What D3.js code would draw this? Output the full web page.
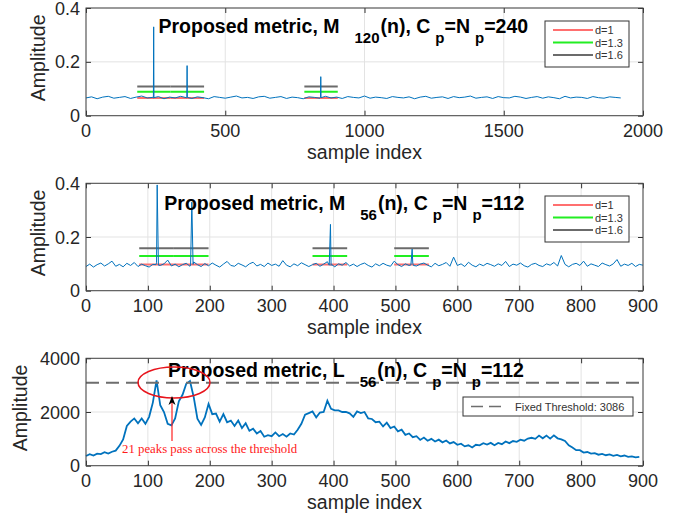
<!DOCTYPE html>
<html>
<head>
<meta charset="utf-8">
<script src="https://cdn.jsdelivr.net/npm/d3@7"></script>
<style>
body { margin: 0; background: #fff; }
</style>
</head>
<body>
<div id="chart"></div>
<script>
// ---- panel 1 : M_120(n), sampled every 20 samples + spike samples
var m120Step = 20;
var m120Noise = [0.066,0.070,0.063,0.069,0.072,0.065,0.068,0.071,0.064,0.069,
  0.073,0.066,0.068,0.071,0.063,0.069,0.066,0.072,0.067,0.064,
  0.070,0.067,0.063,0.071,0.068,0.065,0.069,0.073,0.066,0.068,
  0.064,0.070,0.072,0.065,0.068,0.071,0.064,0.069,0.067,0.063,
  0.070,0.068,0.065,0.072,0.066,0.069,0.064,0.071,0.068,0.066,
  0.073,0.065,0.069,0.067,0.064,0.071,0.068,0.066,0.070,0.063,
  0.069,0.072,0.065,0.068,0.070,0.064,0.071,0.067,0.069,0.073,
  0.065,0.068,0.070,0.064,0.071,0.067,0.066,0.072,0.069,0.064,
  0.068,0.071,0.065,0.070,0.067,0.063,0.072,0.066,0.069,0.068,
  0.064,0.071,0.067,0.065,0.070,0.068,0.066];
var m120SpikeIdx = [242, 243, 244, 362, 363, 364, 842, 843, 844];
var m120SpikeVal = [0.066, 0.330, 0.067, 0.067, 0.186, 0.068, 0.068, 0.145, 0.067];
var m120SegStart = [184, 304, 784];
var m120SegEnd = [304, 424, 904];

// ---- panel 2 : M_56(n), sampled every 6 samples + spike samples
var m56Step = 6;
var m56Noise = [0.090,0.099,0.088,0.097,0.103,0.092,0.100,0.110,0.091,0.098,
  0.089,0.102,0.094,0.105,0.090,0.099,0.093,0.088,0.098,0.104,
  0.094,0.100,0.114,0.092,0.099,0.089,0.097,0.102,0.091,0.107,
  0.097,0.090,0.101,0.093,0.103,0.095,0.088,0.099,0.109,0.094,
  0.091,0.102,0.096,0.089,0.100,0.106,0.092,0.098,0.090,0.103,
  0.094,0.099,0.091,0.112,0.095,0.089,0.100,0.093,0.104,0.097,
  0.090,0.097,0.102,0.091,0.099,0.108,0.094,0.089,0.100,0.095,
  0.105,0.092,0.099,0.090,0.098,0.103,0.094,0.088,0.100,0.093,
  0.102,0.095,0.091,0.110,0.097,0.090,0.100,0.094,0.103,0.092,
  0.099,0.103,0.095,0.089,0.102,0.093,0.098,0.105,0.091,0.125,
  0.094,0.100,0.090,0.106,0.095,0.089,0.099,0.093,0.102,0.097,
  0.091,0.100,0.094,0.109,0.090,0.099,0.095,0.103,0.093,0.088,
  0.098,0.102,0.094,0.090,0.100,0.095,0.105,0.092,0.131,0.098,
  0.089,0.098,0.102,0.094,0.110,0.091,0.100,0.095,0.090,0.103,
  0.097,0.092,0.100,0.116,0.091,0.099,0.094,0.102,0.090,0.098,
  0.095];
var m56SpikeIdx = [113, 115, 117, 169, 171, 173, 393, 395, 397, 525, 527, 529];
var m56SpikeVal = [0.097, 0.394, 0.095, 0.096, 0.330, 0.098, 0.095, 0.247, 0.097, 0.096, 0.155, 0.094];
var m56SegStart = [86, 142, 366, 498];
var m56SegEnd = [142, 198, 422, 554];

// threshold levels for d = 1, 1.3, 1.6
var dNames = ["d=1", "d=1.3", "d=1.6"];
var dColors = ["#ff6f6f", "#22ee22", "#6b6b6b"];
var m120Levels = [0.066, 0.089, 0.108];
var m56Levels = [0.098, 0.129, 0.158];

// ---- panel 3 : L_56(n), sampled every 6 samples
var l56Step = 6;
var l56Val = [360,430,380,450,430,500,450,520,560,740,
  980,1480,1640,1760,1580,1760,1560,1820,2350,3180,
  2250,2000,1560,1500,1760,2400,2640,3050,3150,2560,
  1750,1520,1800,2300,1920,1940,1640,1920,1620,1680,
  1480,1680,1400,1580,1300,1380,1200,1290,1080,1140,
  1100,1240,1100,1180,1080,1200,1160,1340,1560,1900,
  1960,2020,1800,1980,2000,2420,2120,2060,2060,2000,
  2000,1950,1820,2020,1960,2000,1760,1740,1620,1640,
  1460,1600,1400,1460,1280,1340,1150,1200,1060,1100,
  960,1050,930,1000,900,970,870,940,830,880,
  780,820,720,760,680,780,760,840,790,850,
  760,850,800,900,840,920,890,970,930,1010,
  1040,1000,1120,1020,1120,1010,1130,1020,980,920,
  760,680,580,580,490,510,450,470,410,440,
  390,420,370,400,350,380,330,350,310,330];
var thresholdValue = 3086;

var xTicks2000 = [0, 500, 1000, 1500, 2000];
var xTicks900 = [0, 100, 200, 300, 400, 500, 600, 700, 800, 900];
var yTicksM = [0, 0.2, 0.4];
var yTicksL = [0, 2000, 4000];

var blue = "#0072BD";
var sans = "'Liberation Sans', Arial, Helvetica, sans-serif";
var left = 86, right = 643;

var svg = d3.select("#chart").append("svg")
    .attr("width", 691)
    .attr("height", 519)
    .style("font-family", sans);

function buildSeries(step, vals, spikeIdx, spikeVal) {
    var pts = vals.map(function(v, i) { return [i * step, v]; });
    if (spikeIdx) {
        spikeIdx.forEach(function(s, i) { pts.push([s, spikeVal[i]]); });
    }
    pts.sort(function(a, b) { return a[0] - b[0]; });
    return pts;
}

function drawFrame(top, bottom, xDomain, yDomain, xTicks, yTicks, ylabelX) {
    var x = d3.scaleLinear().domain(xDomain).range([left, right]);
    var y = d3.scaleLinear().domain(yDomain).range([bottom, top]);
    var g = svg.append("g");

    g.append("g").selectAll("line").data(xTicks).enter().append("line")
        .attr("x1", function(d) { return x(d); }).attr("x2", function(d) { return x(d); })
        .attr("y1", top).attr("y2", bottom)
        .attr("stroke", "#e3e3e3");
    g.append("g").selectAll("line").data(yTicks).enter().append("line")
        .attr("x1", left).attr("x2", right)
        .attr("y1", function(d) { return y(d); }).attr("y2", function(d) { return y(d); })
        .attr("stroke", "#e3e3e3");

    // inward ticks on all four sides
    var axL = d3.axisRight(y).tickValues(yTicks).tickSize(5).tickFormat("");
    var axR = d3.axisLeft(y).tickValues(yTicks).tickSize(5).tickFormat("");
    var axB = d3.axisTop(x).tickValues(xTicks).tickSize(5).tickFormat("");
    var axT = d3.axisBottom(x).tickValues(xTicks).tickSize(5).tickFormat("");
    g.append("g").attr("transform", "translate(" + left + ",0)").call(axL);
    g.append("g").attr("transform", "translate(" + right + ",0)").call(axR);
    g.append("g").attr("transform", "translate(0," + bottom + ")").call(axB);
    g.append("g").attr("transform", "translate(0," + top + ")").call(axT);
    g.selectAll(".domain").remove();
    g.selectAll(".tick line").attr("stroke", "#333");

    g.append("g").selectAll("text").data(xTicks).enter().append("text")
        .attr("x", function(d) { return x(d); })
        .attr("y", bottom + 21.5)
        .attr("text-anchor", "middle")
        .attr("font-size", 18)
        .attr("fill", "#262626")
        .text(function(d) { return d; });
    g.append("g").selectAll("text").data(yTicks).enter().append("text")
        .attr("x", left - 6)
        .attr("y", function(d) { return y(d) + 6.5; })
        .attr("text-anchor", "end")
        .attr("font-size", 18)
        .attr("fill", "#262626")
        .text(function(d) { return d; });

    svg.append("text")
        .attr("x", (left + right) / 2)
        .attr("y", bottom + 43)
        .attr("text-anchor", "middle")
        .attr("font-size", 19.5)
        .attr("fill", "#262626")
        .text("sample index");
    svg.append("text")
        .attr("transform", "translate(" + ylabelX + "," + ((top + bottom) / 2 - 4) + ") rotate(-90)")
        .attr("text-anchor", "middle")
        .attr("font-size", 19.5)
        .attr("fill", "#262626")
        .text("Amplitude");

    return {x: x, y: y, g: g, top: top, bottom: bottom};
}

function drawBox(p) {
    p.g.append("rect")
        .attr("x", left).attr("y", p.top)
        .attr("width", right - left).attr("height", p.bottom - p.top)
        .attr("fill", "none").attr("stroke", "#444").attr("stroke-width", 1);
}

function drawTitle(x0, base, letter, sub, cp) {
    var t = svg.append("text")
        .attr("x", x0).attr("y", base)
        .attr("font-size", 19.5)
        .attr("font-weight", "bold")
        .attr("fill", "#000");
    t.append("tspan").text("Proposed metric, " + letter);
    t.append("tspan").attr("dx", 15).attr("dy", 10).attr("font-size", 15).text(sub);
    t.append("tspan").attr("dx", 1).attr("dy", -10).text("(n), C");
    t.append("tspan").attr("dx", 5).attr("dy", 10).attr("font-size", 15).text("p");
    t.append("tspan").attr("dy", -10).text("=N");
    t.append("tspan").attr("dx", 5).attr("dy", 10).attr("font-size", 15).text("p");
    t.append("tspan").attr("dy", -10).text("=" + cp);
}

function drawSegments(p, starts, ends, levels) {
    levels.forEach(function(lv, k) {
        p.g.append("g").selectAll("line").data(starts).enter().append("line")
            .attr("x1", function(d) { return p.x(d); })
            .attr("x2", function(d, i) { return p.x(ends[i]); })
            .attr("y1", p.y(lv)).attr("y2", p.y(lv))
            .attr("stroke", dColors[k])
            .attr("stroke-width", 2);
    });
}

function drawDLegend(top) {
    var g = svg.append("g");
    g.append("rect")
        .attr("x", 545).attr("y", top).attr("width", 84).attr("height", 46)
        .attr("fill", "#fff").attr("stroke", "#333").attr("stroke-width", 1);
    var rows = g.selectAll("g").data(dNames).enter().append("g")
        .attr("transform", function(d, i) { return "translate(0," + (top + 9 + i * 12.5) + ")"; });
    rows.append("line")
        .attr("x1", 553).attr("x2", 593)
        .attr("stroke", function(d, i) { return dColors[i]; })
        .attr("stroke-width", 2);
    rows.append("text")
        .attr("x", 595).attr("y", 4)
        .attr("font-size", 11)
        .attr("fill", "#333")
        .text(function(d) { return d; });
}

var line = function(p) {
    return d3.line().x(function(d) { return p.x(d[0]); }).y(function(d) { return p.y(d[1]); });
};

// ---------- panel 1
var p1 = drawFrame(8, 115.7, [0, 2000], [0, 0.4], xTicks2000, yTicksM, 45);
drawSegments(p1, m120SegStart, m120SegEnd, m120Levels);
p1.g.append("path")
    .datum(buildSeries(m120Step, m120Noise, m120SpikeIdx, m120SpikeVal))
    .attr("d", line(p1))
    .attr("fill", "none").attr("stroke", blue).attr("stroke-width", 1);
drawBox(p1);
drawTitle(158.5, 33, "M", "120", "240");
drawDLegend(21);

// ---------- panel 2
var p2 = drawFrame(183.3, 290.7, [0, 900], [0, 0.4], xTicks900, yTicksM, 45);
drawSegments(p2, m56SegStart, m56SegEnd, m56Levels);
p2.g.append("path")
    .datum(buildSeries(m56Step, m56Noise, m56SpikeIdx, m56SpikeVal))
    .attr("d", line(p2))
    .attr("fill", "none").attr("stroke", blue).attr("stroke-width", 1);
drawBox(p2);
drawTitle(164.3, 210, "M", "56", "112");
drawDLegend(196);

// ---------- panel 3
var p3 = drawFrame(358.3, 465.7, [0, 900], [0, 4000], xTicks900, yTicksL, 27);
p3.g.append("path")
    .datum(buildSeries(l56Step, l56Val))
    .attr("d", line(p3))
    .attr("fill", "none").attr("stroke", blue).attr("stroke-width", 1.8);
p3.g.append("line")
    .attr("x1", left).attr("x2", right)
    .attr("y1", p3.y(thresholdValue)).attr("y2", p3.y(thresholdValue))
    .attr("stroke", "#6e6e6e").attr("stroke-width", 2)
    .attr("stroke-dasharray", "13,7");
drawBox(p3);
drawTitle(168, 376.7, "L", "56", "112");

var lg = svg.append("g");
lg.append("rect")
    .attr("x", 463).attr("y", 397).attr("width", 170).attr("height", 19)
    .attr("fill", "#fff").attr("stroke", "#333").attr("stroke-width", 1);
lg.append("line")
    .attr("x1", 471).attr("x2", 505).attr("y1", 406.5).attr("y2", 406.5)
    .attr("stroke", "#6e6e6e").attr("stroke-width", 1.5)
    .attr("stroke-dasharray", "12,6");
lg.append("text")
    .attr("x", 515).attr("y", 410.5)
    .attr("font-size", 11).attr("fill", "#333")
    .text("Fixed Threshold: " + thresholdValue);

// annotation
svg.append("ellipse")
    .attr("cx", 174).attr("cy", 382.5).attr("rx", 36).attr("ry", 15.5)
    .attr("fill", "none").attr("stroke", "#e8141c").attr("stroke-width", 1.5);
svg.append("line")
    .attr("x1", 172).attr("x2", 172).attr("y1", 441).attr("y2", 402)
    .attr("stroke", "#ff2020").attr("stroke-width", 1.2);
svg.append("path")
    .attr("d", "M172,396 L168.5,405 L172,402.5 L175.5,405 Z")
    .attr("fill", "#000");
svg.append("text")
    .attr("x", 122).attr("y", 453)
    .style("font-family", "'Liberation Serif', 'Times New Roman', serif")
    .attr("font-size", 12.8)
    .attr("fill", "#ff1a1a")
    .text("21 peaks pass across the threshold");
</script>
</body>
</html>
